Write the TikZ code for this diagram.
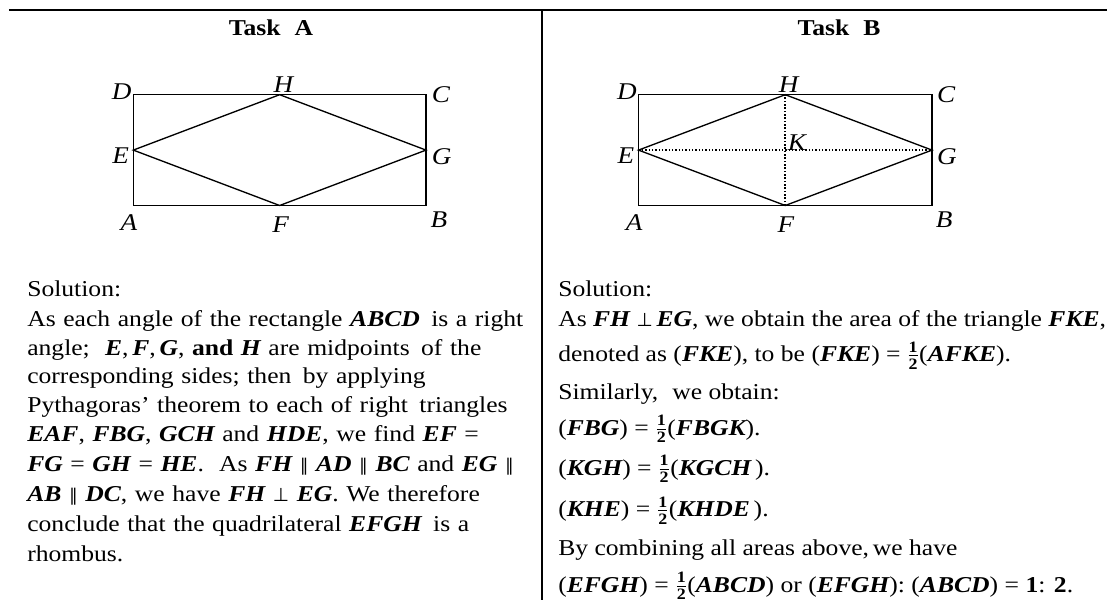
\documentclass[tikz,border=0pt]{standalone}
\usepackage{amsmath}
\usepackage{fontspec}
\usetikzlibrary{calc}
\setmainfont{Liberation Serif}[FakeStretch=1.13]
\newfontfamily\symfont{DejaVu Sans}
\newcommand{\fs}{\fontsize{17}{20}\selectfont}
\newcommand{\lfs}{\fs\spaceskip 5.7pt plus 1pt minus 0.5pt\relax}
\newcommand{\m}[1]{{\bfseries\itshape #1}}
\newcommand{\hlf}{$\frac{\text{\bfseries 1}}{\text{\bfseries 2}}$}
\newcommand{\pll}{{\symfont\fontsize{13}{15}\selectfont ∥}}
\newcommand{\prp}{{\symfont\fontsize{14}{15}\selectfont ⊥}}
\tikzset{
  txt/.style={anchor=base west, inner sep=0pt, font=\fs},
  ltxt/.style={anchor=base west, inner sep=0pt, font=\lfs},
  ttl/.style={inner sep=0pt, font=\fs\bfseries},
  lab/.style={inner sep=0pt, font=\fontsize{18}{20}\selectfont\itshape},
  fig/.style={line width=1pt, line join=miter},
  dotl/.style={line width=1.2pt, dash pattern=on 1.2pt off 1.3pt},
  rule/.style={line width=1.5pt}
}
\begin{document}
\begin{tikzpicture}[x=0.75pt, y=-0.75pt]
\useasboundingbox (0,0) rectangle (1107,600);
% table rules
\coordinate (tl) at (8.8,10);
\coordinate (tr) at (1107,10);
\coordinate (vt) at (541.7,10);
\coordinate (vb) at (541.7,600);
\draw[rule] (tl) -- (tr);
\draw[rule] (vt) -- (vb);
% titles
\node[ttl] (tA) at (271,28) {Task\,\, A};
\node[ttl] (tB) at (839,28) {Task\,\, B};
% figure A
\coordinate (A) at (133.3,205.5);
\coordinate (B) at (426,205.5);
\coordinate (C) at (426,94.7);
\coordinate (D) at (133.3,94.7);
\coordinate (E) at ($(A)!0.5!(D)$);
\coordinate (F) at ($(A)!0.5!(B)$);
\coordinate (G) at ($(B)!0.5!(C)$);
\coordinate (H) at ($(D)!0.5!(C)$);
\draw[fig] (A) -- (B) -- (C) -- (D) -- cycle;
\draw[fig] (E) -- (F) -- (G) -- (H) -- cycle;
\node[lab] (lD) at (121.7,91.7) {D};
\node[lab] (lH) at (283.5,85) {H};
\node[lab] (lC) at (441,95) {C};
\node[lab] (lE) at (120.7,156) {E};
\node[lab] (lG) at (441.7,156.7) {G};
\node[lab] (lA) at (129,223) {A};
\node[lab] (lF) at (280.7,225) {F};
\node[lab] (lB) at (439,220) {B};
% figure B
\coordinate (A2) at (638.5,205.5);
\coordinate (B2) at (932,205.5);
\coordinate (C2) at (932,94.7);
\coordinate (D2) at (638.5,94.7);
\coordinate (E2) at ($(A2)!0.5!(D2)$);
\coordinate (F2) at ($(A2)!0.5!(B2)$);
\coordinate (G2) at ($(B2)!0.5!(C2)$);
\coordinate (H2) at ($(D2)!0.5!(C2)$);
\draw[dotl] (E2) -- (G2);
\draw[dotl] (F2) -- (H2);
\draw[fig] (A2) -- (B2) -- (C2) -- (D2) -- cycle;
\draw[fig] (E2) -- (F2) -- (G2) -- (H2) -- cycle;
\node[lab] (mD) at (626.9,91.7) {D};
\node[lab] (mH) at (788.7,85) {H};
\node[lab] (mC) at (946.2,95) {C};
\node[lab] (mE) at (625.9,156) {E};
\node[lab] (mK) at (797,143) {K};
\node[lab] (mG) at (946.9,156.7) {G};
\node[lab] (mA) at (634.2,223) {A};
\node[lab] (mF) at (785.9,225) {F};
\node[lab] (mB) at (944.2,220) {B};
% left text
\node[ltxt] (la1) at (27,296.5) {Solution:};
\node[ltxt] (la2) at (27,326) {As each angle of the rectangle \m{ABCD}\, is a right};
\node[ltxt] (la3) at (27,355) {angle;\,\, \m{E},\,\m{F},\,\m{G}, \textbf{and} \m{H} are midpoints\, of the};
\node[ltxt] (la4) at (27,383.5) {corresponding sides; then\, by applying};
\node[ltxt] (la5) at (27,412) {Pythagoras’ theorem to each of right\, triangles};
\node[ltxt] (la6) at (27,441.5) {\m{EAF}, \m{FBG}, \m{GCH} and \m{HDE}, we find \m{EF} =};
\node[ltxt] (la7) at (27,471) {\m{FG} = \m{GH} = \m{HE}.\,\, As \m{FH} \pll\ \m{AD} \pll\ \m{BC} and \m{EG} \pll};
\node[ltxt] (la8) at (27,501.5) {\m{AB} \pll\ \m{DC}, we have \m{FH} \prp\ \m{EG}. We therefore};
\node[ltxt] (la9) at (27,531.5) {conclude that the quadrilateral \m{EFGH}\, is a};
\node[ltxt] (la10) at (27,561) {rhombus.};
% right text
\node[txt] (rb1) at (558,296.5) {Solution:};
\node[txt] (rb2) at (558,326) {As \m{FH} \prp\,\m{EG}, we obtain the area of the triangle \m{FKE},};
\node[txt] (rb3) at (558,361.5) {denoted as (\m{FKE}), to be (\m{FKE}) = \hlf(\m{AFKE}).};
\node[txt] (rb4) at (558,399) {Similarly,\,\, we obtain:};
\node[txt] (rb5) at (558,435) {(\m{FBG}) = \hlf(\m{FBGK}).};
\node[txt] (rb6) at (558,475) {(\m{KGH}) = \hlf(\m{KGCH}\,).};
\node[txt] (rb7) at (558,516.5) {(\m{KHE}) = \hlf(\m{KHDE}\,).};
\node[txt] (rb8) at (558,555.5) {By combining all areas above,\,we have};
\node[txt] (rb9) at (558,592) {(\m{EFGH}) = \hlf(\m{ABCD}) or (\m{EFGH}): (\m{ABCD}) = \textbf{1}: \textbf{2}.};
\end{tikzpicture}
\end{document}
